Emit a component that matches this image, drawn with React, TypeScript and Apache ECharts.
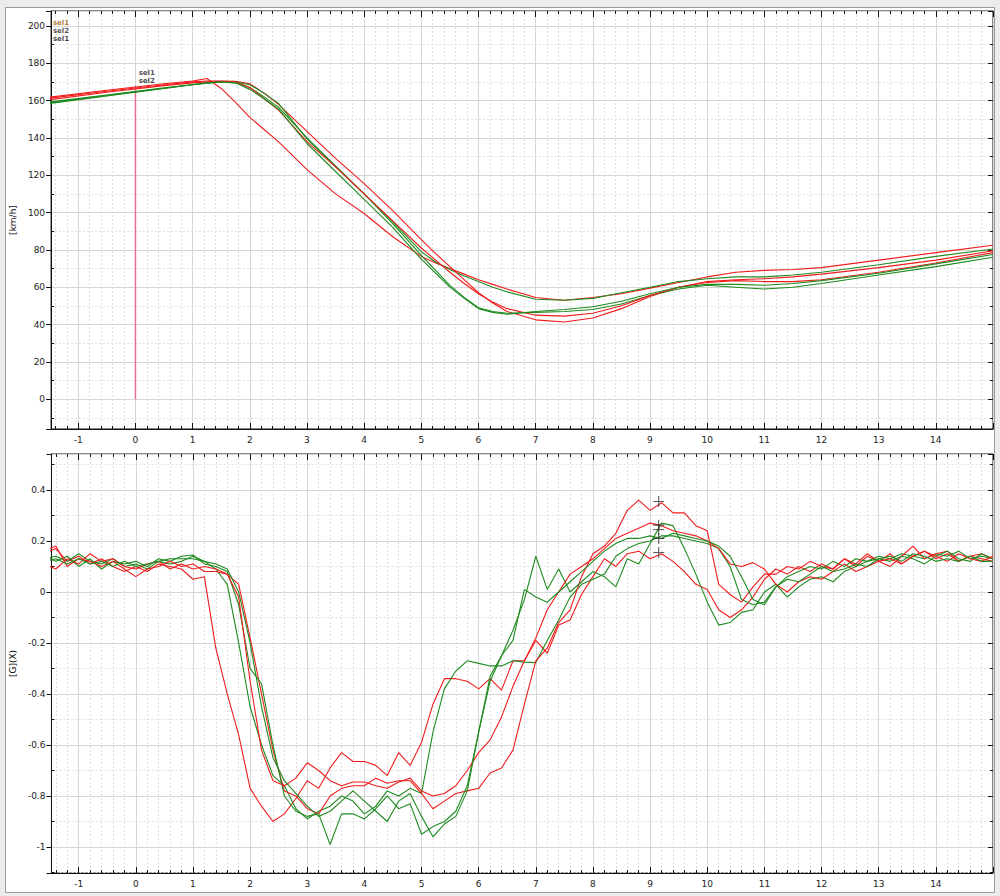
import React, { useEffect, useRef } from "react";
import * as echarts from "echarts";

// ---------------- Speed (top chart) ----------------
const speedTime = [
  -1.5, -0.5, 0.5, 1.0, 1.25, 1.5, 1.75, 2.0, 2.25, 2.5, 3.0, 3.5, 4.0, 4.5,
  5.0, 5.25, 5.5, 5.75, 6.0, 6.25, 6.5, 7.0, 7.5, 8.0, 8.5, 9.0, 9.5, 10.0,
  10.5, 11.0, 11.5, 12.0, 13.0, 14.0, 15.0,
];
const speedRed1 = [
  161.8, 165.5, 169, 170.5, 171.8, 166.5, 159, 151, 144.5, 138, 123, 110, 99.5, 87,
  76.5, 73, 70, 67, 64, 61.5, 59, 54.5, 53, 54.5, 56.5, 59.5, 62.5, 65.5,
  68, 69, 69.5, 70.5, 74.5, 78.5, 82.5,
];
const speedRed2 = [
  161.3, 165, 168.5, 170, 170.5, 170.5, 170.3, 169, 164, 158, 143.5, 129, 115.5, 101,
  85.5, 78, 71, 64, 57, 51.5, 47, 42.5, 41.3, 43.5, 48.5, 55, 60, 63,
  64, 64.5, 65.5, 67, 70.5, 74.5, 79.5,
];
const speedRed3 = [
  160.5, 164.5, 168, 169.5, 170, 170.3, 170, 167, 161, 155, 138, 124.5, 110, 95.5,
  81, 74.5, 68, 62, 56.5, 52, 48.5, 45, 44.5, 46, 50, 55.5, 60, 62.5,
  63.5, 63, 63, 64, 68, 73, 78.5,
];
const speedGreen1 = [
  159.3, 163, 166.8, 168.5, 169.5, 170, 169.5, 167, 162, 156.5, 140, 125, 110, 95,
  79, 73.5, 69.5, 66, 63, 60, 57.5, 53.5, 53, 54, 57, 60, 63, 64.5,
  65.5, 65.5, 66.5, 68, 72, 76.5, 80.5,
];
const speedGreen2 = [
  158.5, 162.5, 166.5, 168.5, 169.3, 170, 170, 168.5, 164, 158.5, 139.5, 124.5, 110, 94,
  77, 69, 61, 54.5, 49, 47, 46, 46.5, 47, 48, 51, 55.5, 59, 61,
  60, 59, 60, 62, 66.5, 71, 76,
];
const speedGreen3 = [
  158.8, 162.8, 166.6, 168.6, 169.5, 170, 169.5, 166, 161, 155.5, 137, 122, 107, 92,
  75, 67.5, 60, 54, 48.5, 46.5, 45.5, 47, 48, 49.5, 52.5, 56.5, 60, 61.5,
  61.5, 61, 62, 63.5, 67.5, 72.5, 77.5,
];

// ---------------- Acceleration (bottom chart) ----------------
const accelTime = [
  -1.6, -1.4, -1.2, -1.0, -0.8, -0.6, -0.4, -0.2, 0, 0.2,
  0.4, 0.6, 0.8, 1.0, 1.2, 1.4, 1.6, 1.8, 2.0, 2.2,
  2.4, 2.6, 2.8, 3.0, 3.2, 3.4, 3.6, 3.8, 4.0, 4.2,
  4.4, 4.6, 4.8, 5.0, 5.2, 5.4, 5.6, 5.8, 6.0, 6.2,
  6.4, 6.6, 6.8, 7.0, 7.2, 7.4, 7.6, 7.8, 8.0, 8.2,
  8.4, 8.6, 8.8, 9.0, 9.2, 9.4, 9.6, 9.8, 10.0, 10.2,
  10.4, 10.6, 10.8, 11.0, 11.2, 11.4, 11.6, 11.8, 12.0, 12.2,
  12.4, 12.6, 12.8, 13.0, 13.2, 13.4, 13.6, 13.8, 14.0, 14.2,
  14.4, 14.6, 14.8, 15.0,
];
const accelRed1 = [
  0.15, 0.17, 0.12, 0.14, 0.11, 0.13, 0.10, 0.08, 0.10, 0.08,
  0.11, 0.10, 0.09, 0.05, 0.06, -0.22, -0.40, -0.56, -0.77, -0.84,
  -0.90, -0.87, -0.81, -0.74, -0.77, -0.69, -0.63, -0.665, -0.665, -0.68,
  -0.72, -0.63, -0.68, -0.59, -0.44, -0.34, -0.34, -0.35, -0.38, -0.34,
  -0.385, -0.27, -0.27, -0.19, -0.24, -0.13, -0.11, -0.01, 0.06, 0.13,
  0.10, 0.15, 0.16, 0.13, 0.15, 0.12, 0.08, 0.03, 0.01, -0.07,
  -0.10, -0.07, -0.02, 0.05, 0.09, 0.07, 0.10, 0.08, 0.11, 0.09,
  0.13, 0.10, 0.14, 0.12, 0.15, 0.11, 0.14, 0.16, 0.13, 0.15,
  0.12, 0.14, 0.13, 0.12,
];
const accelRed2 = [
  0.11, 0.09, 0.13, 0.11, 0.15, 0.12, 0.13, 0.10, 0.09, 0.11,
  0.12, 0.09, 0.11, 0.09, 0.10, 0.09, 0.07, 0.03, -0.18, -0.40,
  -0.62, -0.78, -0.80, -0.85, -0.87, -0.80, -0.77, -0.76, -0.76, -0.73,
  -0.75, -0.74, -0.74, -0.79, -0.85, -0.82, -0.79, -0.78, -0.77, -0.71,
  -0.69, -0.62, -0.44, -0.27, -0.22, -0.12, -0.07, 0.06, 0.15, 0.18,
  0.23, 0.32, 0.36, 0.32, 0.35, 0.31, 0.31, 0.26, 0.24, 0.03,
  -0.01, -0.04, 0.02, 0.07, 0.07, 0.10, 0.09, 0.12, 0.10, 0.09,
  0.13, 0.11, 0.15, 0.12, 0.10, 0.14, 0.18, 0.13, 0.15, 0.16,
  0.12, 0.14, 0.15, 0.13,
];
const accelRed3 = [
  0.16, 0.18, 0.10, 0.13, 0.12, 0.10, 0.12, 0.09, 0.06, 0.09,
  0.10, 0.12, 0.10, 0.11, 0.08, 0.08, 0.07, -0.02, -0.35, -0.62,
  -0.74, -0.76, -0.73, -0.67, -0.70, -0.74, -0.76, -0.745, -0.745, -0.76,
  -0.77, -0.745, -0.73, -0.78, -0.80, -0.79, -0.76, -0.70, -0.63, -0.58,
  -0.49, -0.37, -0.27, -0.18, -0.07, 0.0, 0.07, 0.10, 0.13, 0.17,
  0.21, 0.23, 0.25, 0.27, 0.26, 0.24, 0.23, 0.22, 0.20, 0.17,
  0.11, 0.10, 0.115, 0.09, 0.03, 0.0, 0.04, 0.06, 0.05, 0.08,
  0.11, 0.08, 0.10, 0.12, 0.13, 0.11, 0.14, 0.16, 0.14, 0.12,
  0.15, 0.13, 0.12, 0.14,
];
const accelGreen1 = [
  0.13, 0.14, 0.12, 0.15, 0.12, 0.11, 0.13, 0.10, 0.11, 0.09,
  0.12, 0.11, 0.12, 0.14, 0.12, 0.09, 0.03, -0.20, -0.45, -0.60,
  -0.72, -0.76, -0.85, -0.89, -0.86, -0.84, -0.80, -0.82, -0.87, -0.84,
  -0.78, -0.80, -0.77, -0.79, -0.55, -0.38, -0.31, -0.27, -0.28, -0.29,
  -0.29, -0.27, -0.275, -0.277, -0.19, -0.11, -0.02, 0.03, 0.05, 0.07,
  0.14, 0.17, 0.19, 0.20, 0.22, 0.22, 0.21, 0.20, 0.19, 0.17,
  0.10, -0.03, -0.05, -0.04, 0.02, 0.06, 0.08, 0.10, 0.09, 0.12,
  0.10, 0.13, 0.12, 0.14, 0.13, 0.15, 0.14, 0.13, 0.15, 0.14,
  0.16, 0.13, 0.14, 0.13,
];
const accelGreen2 = [
  0.14, 0.12, 0.14, 0.10, 0.13, 0.09, 0.12, 0.11, 0.12, 0.10,
  0.13, 0.12, 0.14, 0.145, 0.11, 0.10, 0.08, -0.05, -0.30, -0.36,
  -0.60, -0.80, -0.86, -0.88, -0.87, -0.99, -0.87, -0.87, -0.89, -0.85,
  -0.80, -0.85, -0.83, -0.95, -0.92, -0.90, -0.86, -0.76, -0.55, -0.35,
  -0.25, -0.15, -0.03, 0.14, 0.01, 0.09, 0.0, 0.04, 0.08, 0.06,
  0.02, 0.13, 0.11, 0.19, 0.27, 0.26, 0.17, 0.07, -0.04, -0.13,
  -0.12, -0.08, -0.07, 0.0, 0.03, -0.02, 0.02, 0.05, 0.06, 0.04,
  0.08, 0.10, 0.12, 0.13, 0.12, 0.14, 0.13, 0.11, 0.14, 0.16,
  0.13, 0.12, 0.15, 0.13,
];
const accelGreen3 = [
  0.12, 0.13, 0.11, 0.13, 0.11, 0.12, 0.10, 0.12, 0.10, 0.11,
  0.12, 0.13, 0.13, 0.13, 0.12, 0.11, 0.09, 0.0, -0.20, -0.45,
  -0.65, -0.74, -0.79, -0.84, -0.88, -0.86, -0.82, -0.78, -0.82, -0.86,
  -0.90, -0.82, -0.79, -0.88, -0.96, -0.91, -0.88, -0.78, -0.55, -0.33,
  -0.25, -0.19, 0.01, -0.02, -0.04, 0.0, 0.04, 0.08, 0.12, 0.16,
  0.19, 0.21, 0.21, 0.22, 0.21, 0.23, 0.22, 0.21, 0.20, 0.18,
  0.14, 0.06, -0.03, -0.05, 0.02, 0.05, 0.04, 0.07, 0.10, 0.08,
  0.09, 0.11, 0.10, 0.13, 0.14, 0.12, 0.15, 0.14, 0.12, 0.13,
  0.12, 0.14, 0.12, 0.12,
];

// ---------------- Annotations ----------------
const cursorTime = 0;
const cursorSpeedRange = [0, 168];
const peakMarkTime = 9.15;
const peakMarkValues = [0.355, 0.262, 0.245, 0.21, 0.155];
const selTopLeftLabels = ["sel1", "sel2", "sel1"];
const selTopLeftPoints = [
  [-1.47, 201.8],
  [-1.47, 197.4],
  [-1.47, 193.0],
];
const selCursorLabels = ["sel1", "sel2"];
const selCursorPoints = [
  [0.03, 174.8],
  [0.03, 170.4],
];

// ---------------- Styling ----------------
const FONT = "DejaVu Sans";
const RED = "#f01c1c";
const GREEN = "#1f8a1f";
const X_MIN = -1.476;
const X_MAX = 15;

const nearMultiple = (v: number, step: number) =>
  Math.abs(v / step - Math.round(v / step)) < 1e-6;

function xAxesFor(gridIndex: number) {
  const common = { type: "value", gridIndex, min: X_MIN, max: X_MAX };
  const fmt = (v: number) =>
    nearMultiple(v, 1) && v >= -1.0001 && v <= 14.0001 ? String(Math.round(v)) : "";
  return [
    {
      ...common,
      position: "bottom",
      minInterval: 1,
      maxInterval: 1,
      splitNumber: 16,
      z: 3,
      axisLine: { show: true, onZero: false, lineStyle: { color: "#111", width: 1 } },
      axisTick: { show: true, inside: true, length: 6, lineStyle: { color: "#111", width: 1 } },
      axisLabel: {
        show: true,
        formatter: fmt,
        color: "#1c1c1c",
        fontFamily: FONT,
        fontSize: 9,
        margin: 6,
      },
      splitLine: { show: true, lineStyle: { color: "#d6d6d6", width: 1 } },
    },
    {
      ...common,
      position: "bottom",
      minInterval: 0.2,
      maxInterval: 0.2,
      splitNumber: 82,
      z: 2,
      axisLine: { show: false, onZero: false },
      axisTick: { show: true, inside: true, length: 3, lineStyle: { color: "#111", width: 1 } },
      axisLabel: { show: false },
      splitLine: { show: true, lineStyle: { color: "#dedede", width: 1, type: [2, 2] } },
    },
    {
      ...common,
      position: "top",
      minInterval: 1,
      maxInterval: 1,
      splitNumber: 16,
      z: 3,
      axisLine: { show: false, onZero: false },
      axisTick: { show: true, inside: true, length: 6, lineStyle: { color: "#111", width: 1 } },
      axisLabel: { show: false },
      splitLine: { show: false },
    },
    {
      ...common,
      position: "top",
      minInterval: 0.2,
      maxInterval: 0.2,
      splitNumber: 82,
      z: 3,
      axisLine: { show: false, onZero: false },
      axisTick: { show: true, inside: true, length: 3, lineStyle: { color: "#111", width: 1 } },
      axisLabel: { show: false },
      splitLine: { show: false },
    },
  ];
}

function yAxesFor(
  gridIndex: number,
  min: number,
  max: number,
  major: number,
  minor: number,
  labelMin: number,
  labelMax: number,
  decimals: number,
  name: string
) {
  const common = { type: "value", gridIndex, min, max };
  const majorSplits = Math.round((max - min) / major);
  const minorSplits = Math.round((max - min) / minor);
  const fmt = (v: number) => {
    if (!nearMultiple(v, major)) return "";
    if (v < labelMin - 1e-6 || v > labelMax + 1e-6) return "";
    const f = Math.pow(10, decimals);
    return String(Math.round(v * f) / f);
  };
  return [
    {
      ...common,
      position: "left",
      minInterval: major,
      maxInterval: major,
      splitNumber: majorSplits,
      z: 3,
      name,
      nameLocation: "middle",
      nameGap: 27,
      nameTextStyle: { fontFamily: FONT, fontSize: 9, color: "#111" },
      axisLine: { show: true, onZero: false, lineStyle: { color: "#111", width: 1 } },
      axisTick: { show: true, inside: false, length: 5, lineStyle: { color: "#111", width: 1 } },
      axisLabel: {
        show: true,
        formatter: fmt,
        color: "#1c1c1c",
        fontFamily: FONT,
        fontSize: 9,
        margin: 6,
      },
      splitLine: { show: true, lineStyle: { color: "#d6d6d6", width: 1 } },
    },
    {
      ...common,
      position: "left",
      minInterval: minor,
      maxInterval: minor,
      splitNumber: minorSplits,
      z: 2,
      axisLine: { show: false, onZero: false },
      axisTick: { show: true, inside: true, length: 3, lineStyle: { color: "#111", width: 1 } },
      axisLabel: { show: false },
      splitLine: { show: true, lineStyle: { color: "#dedede", width: 1, type: [2, 2] } },
    },
    {
      ...common,
      position: "right",
      minInterval: major,
      maxInterval: major,
      splitNumber: majorSplits,
      z: 3,
      axisLine: { show: false, onZero: false },
      axisTick: { show: true, inside: true, length: 5, lineStyle: { color: "#111", width: 1 } },
      axisLabel: { show: false },
      splitLine: { show: false },
    },
    {
      ...common,
      position: "right",
      minInterval: minor,
      maxInterval: minor,
      splitNumber: minorSplits,
      z: 3,
      axisLine: { show: false, onZero: false },
      axisTick: { show: true, inside: true, length: 3, lineStyle: { color: "#111", width: 1 } },
      axisLabel: { show: false },
      splitLine: { show: false },
    },
  ];
}

function lineSeries(
  name: string,
  t: number[],
  v: number[],
  color: string,
  axisIndex: number
) {
  return {
    name,
    type: "line",
    xAxisIndex: axisIndex,
    yAxisIndex: axisIndex,
    data: t.map((x, i) => [x, v[i]]),
    symbol: "none",
    showSymbol: false,
    smooth: false,
    lineStyle: { color, width: 1.1 },
    itemStyle: { color },
    silent: true,
    z: 5,
  };
}

function labelSeries(points: number[][], labels: string[], colors: string[]) {
  return {
    type: "scatter",
    xAxisIndex: 0,
    yAxisIndex: 0,
    symbolSize: 1,
    itemStyle: { color: "rgba(0,0,0,0)" },
    silent: true,
    z: 7,
    data: points.map((p, i) => ({
      value: p,
      label: {
        show: true,
        formatter: labels[i],
        position: "right",
        distance: 1,
        color: colors[i % colors.length],
        fontFamily: FONT,
        fontSize: 7,
        lineHeight: 8,
        fontWeight: "bold",
      },
    })),
  };
}

function buildOption() {
  const TOP = 0;
  const BOT = 4;
  return {
    animation: false,
    backgroundColor: "transparent",
    grid: [
      {
        left: 48,
        top: 11,
        width: 945,
        height: 418,
        show: true,
        backgroundColor: "#ffffff",
        borderColor: "#111",
        borderWidth: 1,
      },
      {
        left: 48,
        top: 454,
        width: 945,
        height: 419,
        show: true,
        backgroundColor: "#ffffff",
        borderColor: "#111",
        borderWidth: 1,
      },
    ],
    xAxis: [...xAxesFor(0), ...xAxesFor(1)],
    yAxis: [
      ...yAxesFor(0, -16, 208, 20, 10, 0, 200, 0, "[km/h]"),
      ...yAxesFor(1, -1.102, 0.541, 0.2, 0.1, -1, 0.4, 1, "[G](X)"),
    ],
    series: [
      {
        type: "line",
        xAxisIndex: TOP,
        yAxisIndex: TOP,
        data: cursorSpeedRange.map((v) => [cursorTime, v]),
        symbol: "none",
        lineStyle: { color: "#e2708e", width: 1.5 },
        silent: true,
        z: 4,
      },
      lineSeries("sel1", speedTime, speedRed1, RED, TOP),
      lineSeries("sel2", speedTime, speedGreen1, GREEN, TOP),
      lineSeries("sel3", speedTime, speedRed2, RED, TOP),
      lineSeries("sel4", speedTime, speedGreen2, GREEN, TOP),
      lineSeries("sel5", speedTime, speedRed3, RED, TOP),
      lineSeries("sel6", speedTime, speedGreen3, GREEN, TOP),
      lineSeries("sel1", accelTime, accelRed1, RED, BOT),
      lineSeries("sel2", accelTime, accelGreen1, GREEN, BOT),
      lineSeries("sel3", accelTime, accelRed2, RED, BOT),
      lineSeries("sel4", accelTime, accelGreen2, GREEN, BOT),
      lineSeries("sel5", accelTime, accelRed3, RED, BOT),
      lineSeries("sel6", accelTime, accelGreen3, GREEN, BOT),
      {
        type: "scatter",
        xAxisIndex: BOT,
        yAxisIndex: BOT,
        symbol: "path://M4.5,0H5.5V10H4.5Z M0,4.5H10V5.5H0Z",
        symbolSize: 11,
        itemStyle: { color: "#333" },
        silent: true,
        z: 8,
        data: peakMarkValues.map((v) => [peakMarkTime, v]),
      },
      labelSeries(selTopLeftPoints, selTopLeftLabels, ["#9a5a00", "#2a2a2a", "#111"]),
      labelSeries(selCursorPoints, selCursorLabels, ["#222", "#111"]),
    ],
  };
}

export default function App() {
  const ref = useRef<HTMLDivElement>(null);
  useEffect(() => {
    if (!ref.current) return;
    const chart = echarts.init(ref.current, null, { renderer: "svg" });
    chart.setOption(buildOption() as any);
    return () => chart.dispose();
  }, []);
  return (
    <div
      style={{
        position: "fixed",
        left: 0,
        top: 0,
        width: 1000,
        height: 896,
        background: "#ececec",
        overflow: "hidden",
      }}
    >
      <div
        style={{
          position: "absolute",
          left: 5,
          top: 7,
          width: 990,
          height: 886,
          boxSizing: "border-box",
          border: "1px solid #9c9c9c",
          background: "#ffffff",
        }}
      />
      <div ref={ref} style={{ position: "absolute", left: 0, top: 0, width: 1000, height: 896 }} />
    </div>
  );
}
